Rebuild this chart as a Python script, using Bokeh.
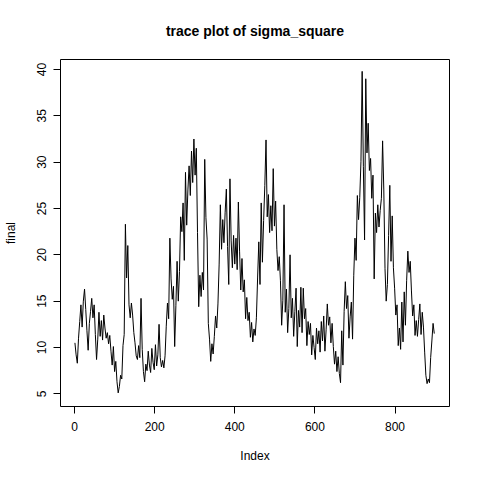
from bokeh.plotting import figure
from bokeh.models import Range1d, FixedTicker, ColumnDataSource
from bokeh.embed import file_html
from bokeh.resources import INLINE

final_values = [
    10.5, 9.2, 8.3, 11.0, 12.8, 14.6, 12.2, 15.0, 16.3, 14.1,
    11.8, 9.7, 12.6, 13.9, 15.3, 13.2, 14.6, 11.4, 8.7, 10.9,
    13.8, 11.2, 12.9, 10.8, 13.5, 12.1, 11.0, 11.6, 10.4, 11.3,
    9.6, 8.1, 10.1, 7.4, 8.5, 6.3, 5.1, 5.8, 7.0, 6.6,
    10.2, 11.4, 23.3, 17.5, 21.0, 14.6, 13.2, 14.8, 13.5, 11.6,
    10.5, 9.1, 8.7, 10.2, 8.9, 15.3, 9.8, 7.4, 6.3, 8.2,
    7.5, 9.6, 8.1, 7.3, 9.9, 8.4, 7.6, 10.3, 8.0, 9.2,
    12.5, 8.9, 7.9, 8.6, 7.8, 9.1, 12.3, 14.8, 13.1, 21.8,
    17.4, 15.2, 16.6, 10.1, 14.5, 19.3, 15.0, 18.2, 24.1, 22.5,
    25.6, 19.4, 28.9, 23.2, 27.0, 29.6, 26.4, 31.2, 27.8, 32.5,
    28.6, 31.5, 22.4, 14.4, 17.8, 15.5, 18.1, 16.2, 30.3, 24.0,
    21.7, 12.6, 10.9, 8.5, 10.4, 9.3, 11.2, 13.4, 12.1, 14.7,
    19.0, 25.4, 20.6, 23.8, 21.3, 24.6, 27.1, 20.9, 16.8, 28.2,
    21.5, 18.6, 22.1, 19.0, 21.8, 18.4, 25.7, 20.4, 16.2, 19.6,
    16.0, 17.3, 13.1, 15.4, 12.9, 13.8, 11.1, 12.7, 10.6, 12.0,
    11.3, 13.2, 17.5, 21.4, 16.8, 25.6, 19.2, 23.7, 27.5, 32.4,
    24.1, 26.5, 22.4, 25.3, 22.6, 29.3, 23.1, 25.8, 20.6, 18.3,
    19.8, 17.2, 12.4, 15.1, 25.4, 13.8, 16.3, 11.6, 14.2, 20.0,
    13.2, 15.3, 11.2, 13.9, 16.4, 10.1, 14.0, 12.2, 16.5, 11.6,
    16.4, 13.1, 14.2, 10.2, 12.8, 11.4, 12.6, 9.2, 11.3, 10.0,
    8.7, 12.1, 10.4, 11.8, 9.5, 12.8, 10.7, 13.4, 9.6, 11.9,
    14.7, 12.4, 13.3, 10.5, 12.6, 10.1, 8.2, 9.6, 7.4, 9.0,
    7.2, 6.2, 11.8, 8.1, 13.9, 17.1, 14.2, 15.6, 11.0, 13.3,
    14.9, 10.9, 17.8, 21.8, 19.4, 26.4, 23.8, 26.2, 30.1, 39.8,
    29.5, 21.6, 39.0, 31.0, 34.2, 29.1, 30.4, 26.1, 28.6, 17.4,
    24.5, 22.4, 25.4, 23.0, 24.8, 26.1, 32.3, 27.0, 18.5, 15.0,
    16.8, 22.1, 27.5, 19.3, 24.2, 18.6, 16.4, 13.5, 14.6, 10.2,
    12.1, 9.8, 14.9, 10.6, 16.0, 12.4, 17.2, 20.4, 18.1, 19.3,
    16.1, 13.4, 14.6, 11.3, 12.9, 11.2, 13.0, 14.7, 11.4, 13.8,
    12.2, 9.5, 7.0, 6.1, 6.6, 6.2, 8.9, 10.7, 12.6, 11.5,
]
index_values = list(range(1, 3 * len(final_values) + 1, 3))

x_ticks = [0, 200, 400, 600, 800]
y_ticks = [5, 10, 15, 20, 25, 30, 35, 40]

FONT = "Liberation Sans"

src = ColumnDataSource(data=dict(index=index_values, final=final_values))

p = figure(width=472, height=472, output_backend="svg", toolbar_location=None,
           x_range=Range1d(-35, 936), y_range=Range1d(3.63, 41.08),
           min_border_left=59, min_border_right=23, min_border_top=59,
           min_border_bottom=66,
           title="trace plot of sigma_square")

p.line("index", "final", source=src, line_color="black", line_width=1)

p.background_fill_color = "white"
p.border_fill_color = "white"
p.outline_line_color = "black"
p.outline_line_width = 1
p.xgrid.visible = False
p.ygrid.visible = False

p.title.align = "center"
p.title.text_font = FONT
p.title.text_font_size = "14px"
p.title.text_font_style = "bold"
p.title.text_color = "black"
p.title.standoff = 41

for ax in (p.xaxis[0], p.yaxis[0]):
    ax.axis_line_color = None
    ax.major_tick_line_color = "black"
    ax.major_tick_out = 7
    ax.major_tick_in = 0
    ax.minor_tick_line_color = None
    ax.major_label_text_font = FONT
    ax.major_label_text_font_size = "12px"
    ax.major_label_text_color = "black"
    ax.axis_label_text_font = FONT
    ax.axis_label_text_font_size = "12px"
    ax.axis_label_text_font_style = "normal"
    ax.axis_label_text_color = "black"

p.xaxis[0].ticker = FixedTicker(ticks=x_ticks)
p.yaxis[0].ticker = FixedTicker(ticks=y_ticks)
p.xaxis[0].major_label_standoff = 8
p.yaxis[0].major_label_standoff = 7
p.yaxis[0].major_label_orientation = "vertical"
p.xaxis[0].axis_label = "Index"
p.yaxis[0].axis_label = "final"
p.xaxis[0].axis_label_standoff = 15
p.yaxis[0].axis_label_standoff = 17

open("out.html", "w").write(file_html(p, INLINE))
